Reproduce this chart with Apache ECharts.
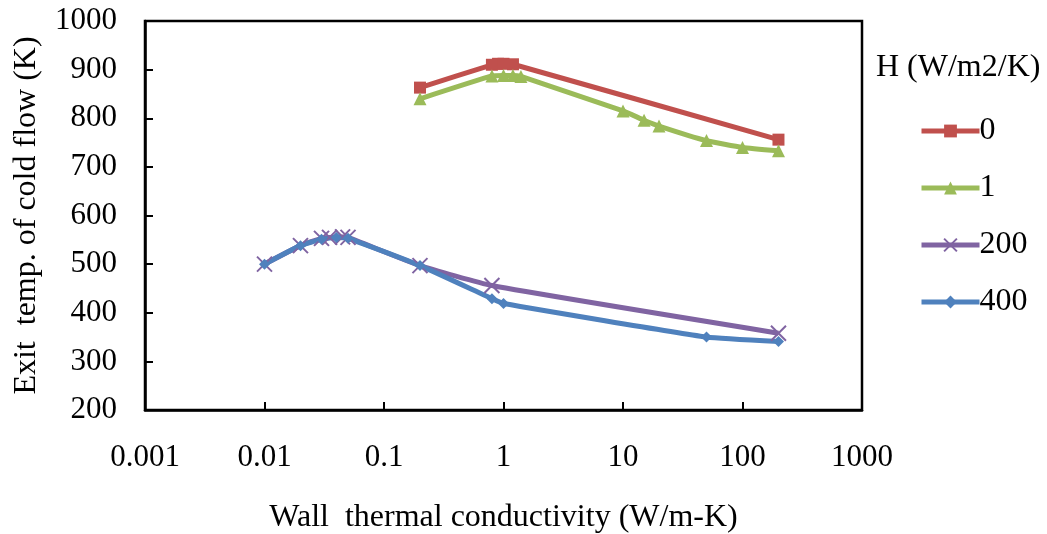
<!DOCTYPE html>
<html><head><meta charset="utf-8">
<script src="https://cdn.jsdelivr.net/npm/echarts@6/dist/echarts.min.js"></script>
<style>html,body{margin:0;padding:0;background:#fff}#c{width:1047px;height:534px}</style>
</head><body><div id="c"></div>
<script>
// Data (x: wall thermal conductivity W/m-K, y: exit temp K)
const seriesNames = ['0', '1', '200', '400'];
const h0_x = [0.2, 0.8, 0.9, 1, 1.2, 200];
const h0_y = [863, 910, 912, 912, 911, 756];
const h1_x = [0.2, 0.8, 1, 1.2, 1.4, 10, 15, 20, 50, 100, 200];
const h1_y = [840, 887, 888, 888, 886, 815, 796, 784, 754, 740, 733];
const h200_x = [0.01, 0.02, 0.03, 0.035, 0.045, 0.05, 0.2, 0.8, 200];
const h200_y = [500, 538, 553, 555, 556, 555, 497, 456, 358];
const h400_x = [0.01, 0.02, 0.03, 0.04, 0.05, 0.2, 0.8, 1, 50, 200];
const h400_y = [500, 538, 551, 555, 553, 497, 429, 419, 350, 341];
const xTicks = [0.001, 0.01, 0.1, 1, 10, 100, 1000];
const yTicks = [200, 300, 400, 500, 600, 700, 800, 900, 1000];

const colors = ['#C0504D', '#9BBB59', '#8064A2', '#4F81BD'];
const FONT = 'Liberation Serif';
function pairs(xs, ys) { return xs.map((x, i) => [x, ys[i]]); }

const chart = echarts.init(document.getElementById('c'));
const cross = 'path://M0,0 L10,10 M10,0 L0,10';
chart.setOption({
  animation: false,
  textStyle: { fontFamily: FONT, color: '#000' },
  grid: { left: 145, right: 185, top: 21, bottom: 124, show: true, borderColor: '#000', borderWidth: 2.5,
    backgroundColor: 'transparent', containLabel: false, outerBoundsMode: 'none' },
  xAxis: {
    type: 'log', logBase: 10, min: xTicks[0], max: xTicks[xTicks.length - 1],
    name: 'Wall  thermal conductivity (W/m-K)', nameLocation: 'middle', nameGap: 92,
    nameTextStyle: { fontFamily: FONT, fontSize: 32, color: '#000' },
    axisLine: { lineStyle: { color: '#000', width: 2.5 } },
    axisTick: { inside: true, length: 8, lineStyle: { color: '#000', width: 2 } },
    minorTick: { show: false },
    splitLine: { show: false },
    axisLabel: { fontFamily: FONT, fontSize: 31, color: '#000', margin: 32,
      formatter: v => { const e = Math.round(Math.log10(v)); const t = xTicks.find(k => Math.round(Math.log10(k)) === e); return t === undefined ? '' : String(t); } }
  },
  yAxis: {
    type: 'value', min: yTicks[0], max: yTicks[yTicks.length - 1], interval: 100,
    name: 'Exit  temp. of cold flow (K)', nameLocation: 'middle', nameGap: 102,
    nameTextStyle: { fontFamily: FONT, fontSize: 32, color: '#000' },
    axisLine: { show: true, lineStyle: { color: '#000', width: 2.5 } },
    axisTick: { show: true, inside: true, length: 8, lineStyle: { color: '#000', width: 2 } },
    splitLine: { show: false },
    axisLabel: { fontFamily: FONT, fontSize: 31, color: '#000', margin: 28, formatter: v => String(v) }
  },
  graphic: [{ type: 'text', left: 876, top: 52, style: { text: 'H (W/m2/K)', font: '32px "Liberation Serif"', fill: '#000' } }],
  legend: {
    orient: 'vertical', left: 914, top: 110, itemGap: 25, itemWidth: 58, itemHeight: 16,
    lineStyle: { width: 5 },
    textStyle: { fontFamily: FONT, fontSize: 32, color: '#000', padding: [0, 0, 0, -5] },
    data: seriesNames
  },
  series: [
    { name: seriesNames[0], type: 'line', data: pairs(h0_x, h0_y), smooth: 0.15, symbol: 'rect', symbolSize: 12,
      lineStyle: { width: 5, color: colors[0] }, itemStyle: { color: colors[0] } },
    { name: seriesNames[1], type: 'line', data: pairs(h1_x, h1_y), smooth: 0.15, symbol: 'triangle', symbolSize: 13,
      lineStyle: { width: 5, color: colors[1] }, itemStyle: { color: colors[1] } },
    { name: seriesNames[2], type: 'line', data: pairs(h200_x, h200_y), smooth: 0.15, symbol: cross, symbolSize: 15,
      lineStyle: { width: 5, color: colors[2] }, itemStyle: { color: colors[2], borderColor: colors[2], borderWidth: 2 } },
    { name: seriesNames[3], type: 'line', data: pairs(h400_x, h400_y), smooth: 0.15, symbol: 'diamond', symbolSize: 11,
      lineStyle: { width: 5, color: colors[3] }, itemStyle: { color: colors[3] } }
  ]
});
</script></body></html>
